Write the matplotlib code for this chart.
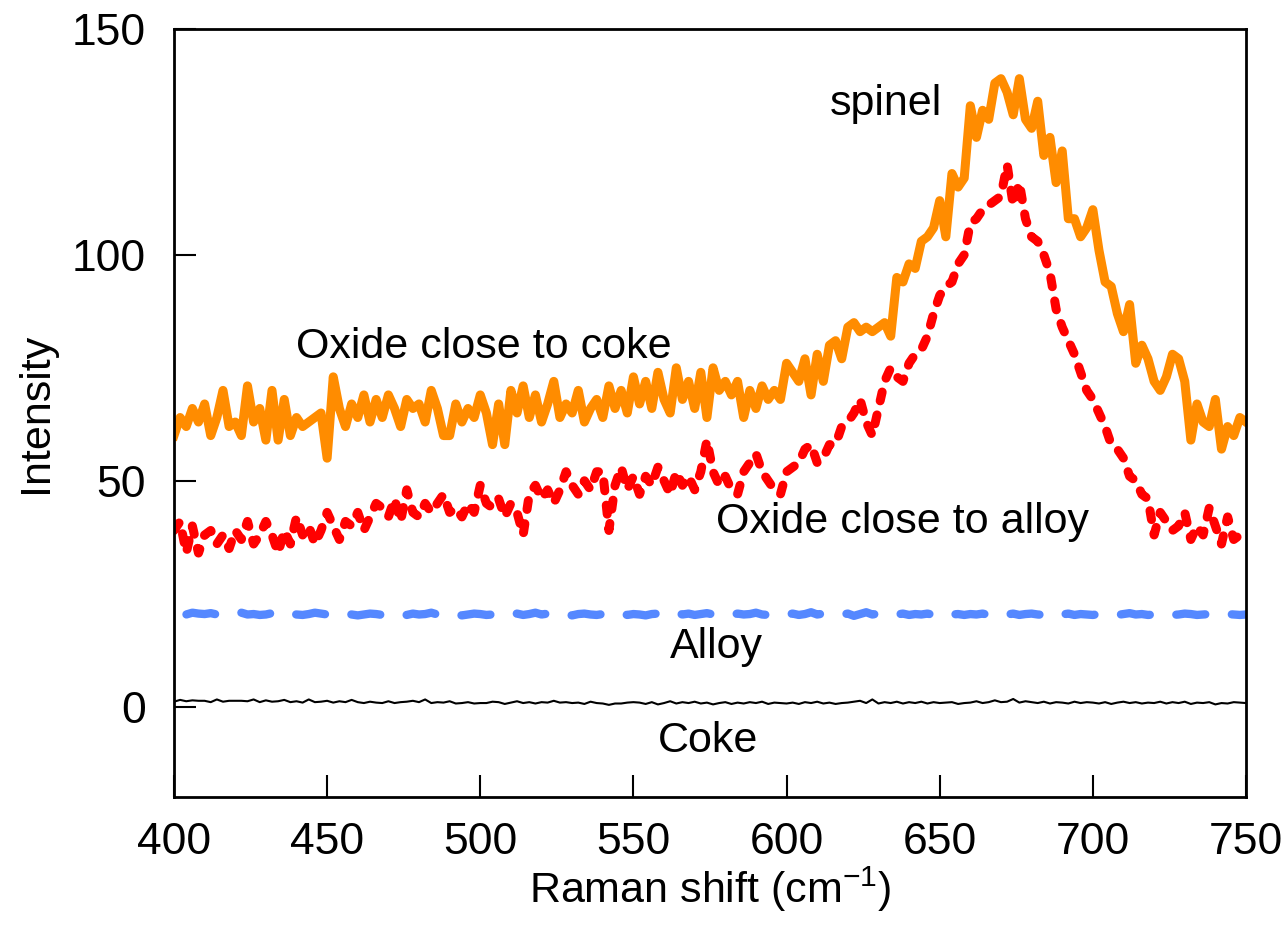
import matplotlib
matplotlib.use("Agg")
import matplotlib.pyplot as plt
import numpy as np

FONT_SIZE = 31
plt.rc('font', family='Liberation Sans', size=FONT_SIZE)
plt.rc('xtick', labelsize=32)
plt.rc('ytick', labelsize=32)
plt.rc('mathtext', fontset='custom', rm='Liberation Sans', it='Liberation Sans:italic')

# Raman shift axis, every 2 cm-1
shift = np.arange(400, 751, 2)

oxide_coke = [
    60, 64, 62, 66, 63, 67, 60, 64, 70, 62,
    63, 60, 71, 63, 66, 59, 70, 59, 68, 60,
    64, 62, 63, 64, 65, 55, 73, 66, 62, 67,
    64, 69, 63, 68, 64, 69, 66, 62, 68, 66,
    67, 63, 70, 66, 60, 60, 67, 63, 66, 64,
    69, 65, 58, 67, 58, 70, 65, 71, 64, 69,
    63, 67, 72, 64, 67, 65, 70, 63, 66, 68,
    64, 71, 66, 70, 65, 73, 67, 72, 66, 74,
    68, 65, 75, 68, 72, 66, 74, 64, 75, 70,
    72, 69, 72, 64, 70, 66, 71, 68, 70, 68,
    76, 74, 72, 77, 69, 78, 72, 80, 81, 77,
    84, 85, 83, 84, 83, 84, 85, 82, 95, 94,
    98, 97, 103, 104, 106, 112, 104, 118, 115, 117,
    133, 126, 132, 130, 138, 139, 136, 131, 139, 130,
    128, 134, 122, 126, 116, 123, 108, 108, 104, 106,
    110, 101, 94, 93, 87, 83, 89, 76, 80, 77,
    72, 70, 73, 78, 77, 72, 59, 67, 63, 62,
    68, 57, 62, 60, 64, 63,
]

oxide_alloy = [
    39, 41, 34, 40, 34, 38, 39, 36, 38, 35,
    39, 37, 41, 36, 38, 41, 38, 34, 39, 36,
    42, 38, 40, 36, 39, 43, 40, 37, 41, 40,
    43, 39, 42, 45, 44, 42, 46, 41, 48, 43,
    42, 45, 43, 45, 47, 43, 44, 42, 45, 43,
    49, 45, 44, 46, 42, 45, 43, 38, 47, 49,
    46, 48, 45, 48, 52, 49, 47, 50, 48, 52,
    52, 39, 49, 53, 48, 51, 47, 51, 49, 53,
    50, 47, 52, 49, 51, 48, 52, 59, 52, 49,
    51, 48, 47, 52, 54, 56, 52, 50, 48, 47,
    52, 53, 54, 57, 58, 54, 55, 58, 58, 62,
    63, 65, 68, 63, 60, 66, 72, 75, 73, 72,
    76, 78, 79, 82, 87, 91, 93, 94, 98, 100,
    107, 108, 110, 111, 112, 113, 120, 111, 116, 108,
    104, 103, 100, 96, 88, 84, 81, 78, 74, 70,
    68, 65, 62, 58, 57, 55, 51, 50, 47, 46,
    38, 43, 41, 39, 40, 43, 37, 40, 38, 44,
    40, 36, 42, 37, 38, 37,
]

alloy = [
    20.4, 20.5, 20.4, 20.8, 20.6, 20.5, 20.7, 20.4, 20.3, 20.6,
    20.5, 20.8, 20.4, 20.5, 20.3, 20.4, 20.7, 20.5, 20.9, 20.6,
    20.4, 20.3, 20.5, 20.8, 20.6, 20.4, 20.5, 20.3, 20.6, 20.4,
    20.2, 20.4, 20.6, 20.5, 20.3, 20.4, 20.7, 20.5, 20.3, 20.6,
    20.4, 20.5, 20.8, 20.4, 20.3, 20.6, 20.5, 20.2, 20.4, 20.6,
    20.5, 20.3, 20.4, 20.7, 20.5, 20.4, 20.6, 20.3, 20.5, 20.8,
    20.4, 20.6, 20.3, 20.5, 20.4, 20.2, 20.5, 20.6, 20.4, 20.3,
    20.5, 20.7, 20.4, 20.6, 20.3, 20.5, 20.4, 20.2, 20.5, 20.6,
    20.3, 20.5, 20.8, 20.4, 20.6, 20.3, 20.5, 20.7, 20.4, 20.6,
    20.5, 20.3, 20.6, 20.4, 20.5, 20.8, 20.4, 20.3, 20.6, 20.5,
    20.4, 20.6, 20.3, 20.5, 20.9, 20.4, 20.6, 20.5, 20.3, 20.4,
    20.6, 20.1, 20.5, 20.9, 20.4, 20.6, 20.3, 20.5, 20.4, 20.6,
    20.3, 20.5, 20.4, 20.6, 20.3, 20.5, 20.8, 20.4, 20.5, 20.3,
    20.5, 20.4, 20.6, 20.3, 20.5, 20.7, 20.4, 20.6, 20.3, 20.5,
    20.6, 20.4, 20.3, 20.5, 20.8, 20.4, 20.6, 20.3, 20.5, 20.4,
    20.3, 20.5, 20.6, 20.4, 20.3, 20.5, 20.7, 20.4, 20.5, 20.3,
    20.4, 20.6, 20.5, 20.3, 20.4, 20.6, 20.5, 20.3, 20.4, 20.5,
    20.4, 20.6, 20.5, 20.4, 20.3, 20.4,
]

coke = [
    1.1, 1.5, 1.2, 1.4, 1.3, 1.3, 1.0, 1.6, 1.1, 1.3,
    1.3, 1.3, 1.2, 1.6, 1.0, 1.4, 1.1, 1.2, 1.5, 1.0,
    1.2, 0.9, 1.6, 1.0, 1.1, 1.3, 0.9, 1.2, 1.0, 1.5,
    1.0, 0.8, 1.1, 0.9, 0.8, 1.2, 0.8, 1.0, 1.1, 1.3,
    1.0, 1.6, 0.8, 1.0, 0.9, 1.2, 0.7, 0.8, 1.0, 0.7,
    0.8, 0.8, 1.1, 1.0, 0.6, 0.9, 1.2, 0.8, 1.0, 0.7,
    1.0, 0.9, 1.3, 0.9, 1.0, 0.8, 0.9, 0.6, 1.1, 0.8,
    0.7, 0.4, 0.7, 0.7, 0.9, 1.0, 0.9, 0.6, 1.0, 0.5,
    0.8, 1.2, 0.7, 1.0, 0.8, 1.1, 0.7, 0.9, 0.5, 0.8,
    1.0, 0.6, 0.9, 0.7, 1.0, 0.8, 1.1, 0.6, 0.9, 0.8,
    0.7, 0.9, 0.6, 1.0, 0.8, 1.1, 0.7, 0.9, 0.6, 0.8,
    0.9, 1.1, 1.3, 0.8, 1.6, 0.7, 1.0, 0.8, 1.1, 0.7,
    1.0, 0.8, 1.1, 0.7, 1.0, 0.8, 0.9, 1.0, 0.6, 0.8,
    0.9, 1.2, 0.8, 1.0, 1.4, 1.0, 1.1, 1.7, 0.9, 1.2,
    1.0, 0.8, 1.1, 0.7, 1.0, 0.9, 0.7, 1.1, 0.8, 1.0,
    0.9, 0.7, 1.0, 0.6, 0.9, 1.1, 0.8, 1.0, 0.7, 0.9,
    0.8, 1.1, 0.7, 1.0, 0.8, 1.1, 0.6, 0.9, 0.8, 1.0,
    0.5, 0.8, 0.7, 1.0, 0.9, 0.8,
]

assert len(oxide_coke) == len(shift) == len(oxide_alloy) == len(alloy) == len(coke)

fig = plt.figure(figsize=(12.84, 9.31), dpi=100)
ax = fig.add_axes([0.1355, 0.1439, 0.8349, 0.825])

ax.plot(shift, coke, color='black', lw=1.5)
ax.plot(shift, alloy, color='#5588ff', lw=6, linestyle=(5.2, (3.5, 3.2)),
        dash_capstyle='round')
ax.plot(shift, oxide_alloy, color='#ff0000', lw=6.5, linestyle=(0, (1.0, 1.6)),
        dash_capstyle='round', dash_joinstyle='round')
ax.plot(shift, oxide_coke, color='#ff8c00', lw=6.5, solid_joinstyle='round')

ax.text(614, 133.5, 'spinel', ha='left', va='center')
ax.text(440, 79.5, 'Oxide close to coke', ha='left', va='center')
ax.text(577, 40.8, 'Oxide close to alloy', ha='left', va='center')
ax.text(562, 13.3, 'Alloy', ha='left', va='center')
ax.text(558, -7.5, 'Coke', ha='left', va='center')

ax.set_xlim(400, 750)
ax.set_ylim(-20, 150)
ax.set_xticks(np.arange(400, 751, 50))
ax.set_yticks([0, 50, 100, 150])
ax.tick_params(direction='in', length=16, width=1.5, top=False, right=False)
ax.tick_params(axis='x', pad=18)
ax.tick_params(axis='y', pad=20)
for s in ax.spines.values():
    s.set_linewidth(2)

ax.set_xlabel('Raman shift (cm$^{-1}$)')
ax.set_ylabel('Intensity')
ax.xaxis.set_label_coords(0.5, -0.088)
ax.yaxis.set_label_coords(-0.11, 0.5)

fig.savefig('out.png', dpi=100)
